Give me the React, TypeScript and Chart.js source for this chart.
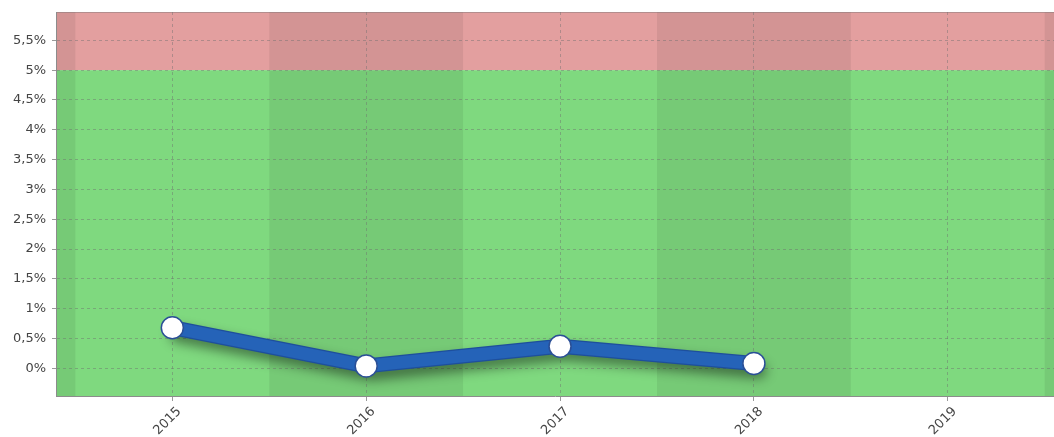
import React, { useEffect, useRef } from "react";
import { Chart, registerables } from "chart.js";

Chart.register(...registerables);

const years = [2015, 2016, 2017, 2018, 2019];
const rateYears = [2015, 2016, 2017, 2018];
const rateValues = [0.68, 0.04, 0.37, 0.08];
const yTicks = [0, 0.5, 1, 1.5, 2, 2.5, 3, 3.5, 4, 4.5, 5, 5.5];
const threshold = 5;

const bgPlugin = {
  id: "bgBands",
  beforeDraw(chart: any) {
    const { ctx, chartArea, scales } = chart;
    const x = scales.x;
    const y = scales.y;
    const yT = y.getPixelForValue(threshold);
    ctx.save();
    ctx.beginPath();
    ctx.rect(chartArea.left, chartArea.top, chartArea.right - chartArea.left, chartArea.bottom - chartArea.top);
    ctx.clip();
    ctx.fillStyle = "#e39f9f";
    ctx.fillRect(chartArea.left, chartArea.top, chartArea.right - chartArea.left, yT - chartArea.top);
    ctx.fillStyle = "#7fd97f";
    ctx.fillRect(chartArea.left, yT, chartArea.right - chartArea.left, chartArea.bottom - yT);
    ctx.fillStyle = "rgba(0,0,0,0.065)";
    for (let k = 2014; k <= 2020; k += 2) {
      const x0 = x.getPixelForValue(k - 0.5);
      const x1 = x.getPixelForValue(k + 0.5);
      ctx.fillRect(x0, chartArea.top, x1 - x0, chartArea.bottom - chartArea.top);
    }
    ctx.fillStyle = "rgba(120,120,120,0.45)";
    ctx.fillRect(chartArea.left, chartArea.top, chartArea.right - chartArea.left, 1);
    ctx.restore();
  },
};

const shadowPlugin = {
  id: "lineShadow",
  beforeDatasetDraw(chart: any, args: any) {
    if (args.index !== 0) return;
    const ctx = chart.ctx;
    ctx.save();
    ctx.shadowColor = "rgba(0,0,0,0.45)";
    ctx.shadowBlur = 12;
    ctx.shadowOffsetX = 5;
    ctx.shadowOffsetY = 7;
  },
  afterDatasetDraw(chart: any, args: any) {
    if (args.index !== 0) return;
    chart.ctx.restore();
  },
};

const FONT = "'DejaVu Sans', sans-serif";

export default function App() {
  const ref = useRef<HTMLCanvasElement>(null);
  useEffect(() => {
    const pts = rateYears.map((yr, i) => ({ x: yr, y: rateValues[i] }));
    const chart = new Chart(ref.current!, {
      type: "line",
      data: {
        datasets: [
          {
            data: pts,
            order: 2,
            borderColor: "#1e4f9c",
            borderWidth: 15,
            borderCapStyle: "round",
            borderJoinStyle: "round",
            pointRadius: 0,
            pointHoverRadius: 0,
            fill: false,
          },
          {
            data: pts,
            order: 1,
            borderColor: "#2563b8",
            borderWidth: 12.5,
            borderCapStyle: "round",
            borderJoinStyle: "round",
            pointRadius: 11,
            pointHoverRadius: 11,
            pointBackgroundColor: "#ffffff",
            pointBorderColor: "#2a4f96",
            pointBorderWidth: 1.5,
            fill: false,
          },
        ],
      },
      options: {
        animation: false,
        responsive: false,
        layout: { autoPadding: false, padding: { top: 12, right: 0, left: 0, bottom: 0 } },
        plugins: { legend: { display: false }, tooltip: { enabled: false } },
        scales: {
          x: {
            type: "linear",
            min: 2014.4,
            max: 2019.548,
            afterBuildTicks: (s: any) => {
              s.ticks = years.map((v) => ({ value: v }));
            },
            afterFit: (s: any) => {
              s.height = 41;
              s.paddingLeft = 0;
              s.paddingRight = 0;
            },
            grid: {
              color: "rgba(110,110,110,0.45)",
              tickColor: "rgba(110,110,110,0.7)",
              tickLength: 5,
              drawTicks: true,
            },
            border: { display: true, color: "#8c8c8c", width: 1, dash: [3, 3] },
            ticks: {
              maxRotation: 45,
              minRotation: 45,
              color: "#444",
              font: { family: FONT, size: 13 },
              callback: (v: any) => String(v),
              padding: 3,
              labelOffset: 7,
            },
          },
          y: {
            min: -0.465,
            max: 5.975,
            afterBuildTicks: (s: any) => {
              s.ticks = yTicks.map((v) => ({ value: v }));
            },
            afterFit: (s: any) => {
              s.width = 56;
              s.paddingTop = 0;
              s.paddingBottom = 0;
            },
            grid: {
              color: "rgba(110,110,110,0.45)",
              tickColor: "rgba(110,110,110,0.7)",
              tickLength: 4,
            },
            border: { display: true, color: "#8c8c8c", width: 1, dash: [3, 3] },
            ticks: {
              color: "#444",
              font: { family: FONT, size: 13 },
              callback: (v: any) => String(v).replace(".", ",") + "%",
              padding: 6,
            },
          },
        },
      },
      plugins: [bgPlugin, shadowPlugin],
    } as any);
    return () => chart.destroy();
  }, []);
  return (
    <div style={{ position: "absolute", left: 0, top: 0, width: 1054, height: 437, background: "#fff" }}>
      <canvas ref={ref} width={1054} height={437} style={{ display: "block" }} />
    </div>
  );
}
